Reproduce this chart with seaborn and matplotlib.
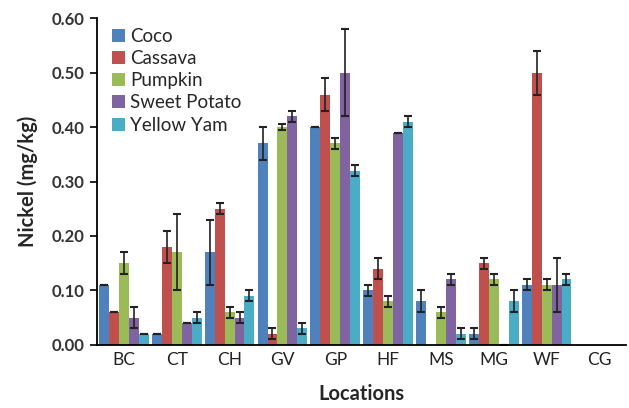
import numpy as np
import pandas as pd
import seaborn as sns
import matplotlib.pyplot as plt

# Data
locations = ['BC', 'CT', 'CH', 'GV', 'GP', 'HF', 'MS', 'MG', 'WF', 'CG']
crops = ['Coco', 'Cassava', 'Pumpkin', 'Sweet Potato', 'Yellow Yam']

coco = [0.11, 0.02, 0.17, 0.37, 0.40, 0.10, 0.08, 0.02, 0.11, 0.0]
cassava = [0.06, 0.18, 0.25, 0.02, 0.46, 0.14, 0.0, 0.15, 0.50, 0.0]
pumpkin = [0.15, 0.17, 0.06, 0.40, 0.37, 0.08, 0.06, 0.12, 0.11, 0.0]
sweet_potato = [0.05, 0.04, 0.05, 0.42, 0.50, 0.39, 0.12, 0.0, 0.11, 0.0]
yellow_yam = [0.02, 0.05, 0.09, 0.03, 0.32, 0.41, 0.02, 0.08, 0.12, 0.0]

# standard deviations (nan = no error bar drawn)
coco_err = [0.0, 0.0, 0.06, 0.03, 0.0, 0.01, 0.02, 0.01, 0.01, np.nan]
cassava_err = [0.0, 0.03, 0.01, 0.01, 0.03, 0.02, np.nan, 0.01, 0.04, np.nan]
pumpkin_err = [0.02, 0.07, 0.01, 0.005, 0.01, 0.01, 0.01, 0.01, 0.01, np.nan]
sweet_potato_err = [0.02, 0.0, 0.01, 0.01, 0.08, 0.0, 0.01, 0.0, 0.05, np.nan]
yellow_yam_err = [0.0, 0.01, 0.01, 0.01, 0.01, 0.01, 0.01, 0.02, 0.01, np.nan]

values = [coco, cassava, pumpkin, sweet_potato, yellow_yam]
errors = [coco_err, cassava_err, pumpkin_err, sweet_potato_err, yellow_yam_err]
colors = ['#4F81BD', '#C0504D', '#9BBB59', '#8064A2', '#4BACC6']

df = pd.DataFrame({
    'Location': np.tile(locations, len(crops)),
    'Crop': np.repeat(crops, len(locations)),
    'Nickel': np.concatenate(values),
})

sns.set_style('white')
plt.rcParams['font.family'] = ['Lato', 'DejaVu Sans']

fig, ax = plt.subplots(figsize=(6.29, 4.08), dpi=100)
sns.barplot(data=df, x='Location', y='Nickel', hue='Crop', order=locations,
            hue_order=crops, palette=colors, errorbar=None, width=0.94,
            saturation=1, linewidth=0, ax=ax)

# error bars on top of the bars
for cont, err in zip(ax.containers, errors):
    for bar, e in zip(cont, err):
        if np.isnan(e):
            continue
        xc = bar.get_x() + bar.get_width() / 2
        ax.errorbar(xc, bar.get_height(), yerr=e, fmt='none', ecolor='#222222',
                    elinewidth=1.2, capsize=3, capthick=1.5)

ax.set_ylim(0, 0.6)
ax.set_xlim(-0.5, len(locations) - 0.5)
ax.set_yticks(np.arange(0, 0.61, 0.1))
ax.set_yticklabels([f'{v:.2f}' for v in np.arange(0, 0.61, 0.1)],
                   fontsize=12, fontweight='bold', color='#333333')
ax.set_xticks(range(len(locations)))
ax.set_xticklabels(locations, fontsize=12.5, color='#222222')
ax.set_xticks(np.arange(-0.5, len(locations)), minor=True)
ax.tick_params(axis='x', which='major', length=0, pad=5)
ax.tick_params(axis='x', which='minor', length=5, width=1.2, direction='out', color='black')
ax.tick_params(axis='y', length=5, width=1.2, direction='out', color='black', left=True, pad=4)

ax.set_xlabel('Locations', fontsize=14.5, fontweight='bold', labelpad=12)
ax.set_ylabel('Nickel (mg/kg)', fontsize=14.5, fontweight='bold', labelpad=10)

sns.despine(ax=ax)
for side in ['left', 'bottom']:
    ax.spines[side].set_color('black')
    ax.spines[side].set_linewidth(1.3)

ax.legend(loc='upper left', bbox_to_anchor=(0.01, 1.0), frameon=False, fontsize=13.5,
          handlelength=0.7, handleheight=0.7, handletextpad=0.25, labelspacing=0.28,
          borderaxespad=0.1)

plt.subplots_adjust(left=0.155, right=0.995, top=0.955, bottom=0.155)
plt.savefig('out.png', dpi=100)
